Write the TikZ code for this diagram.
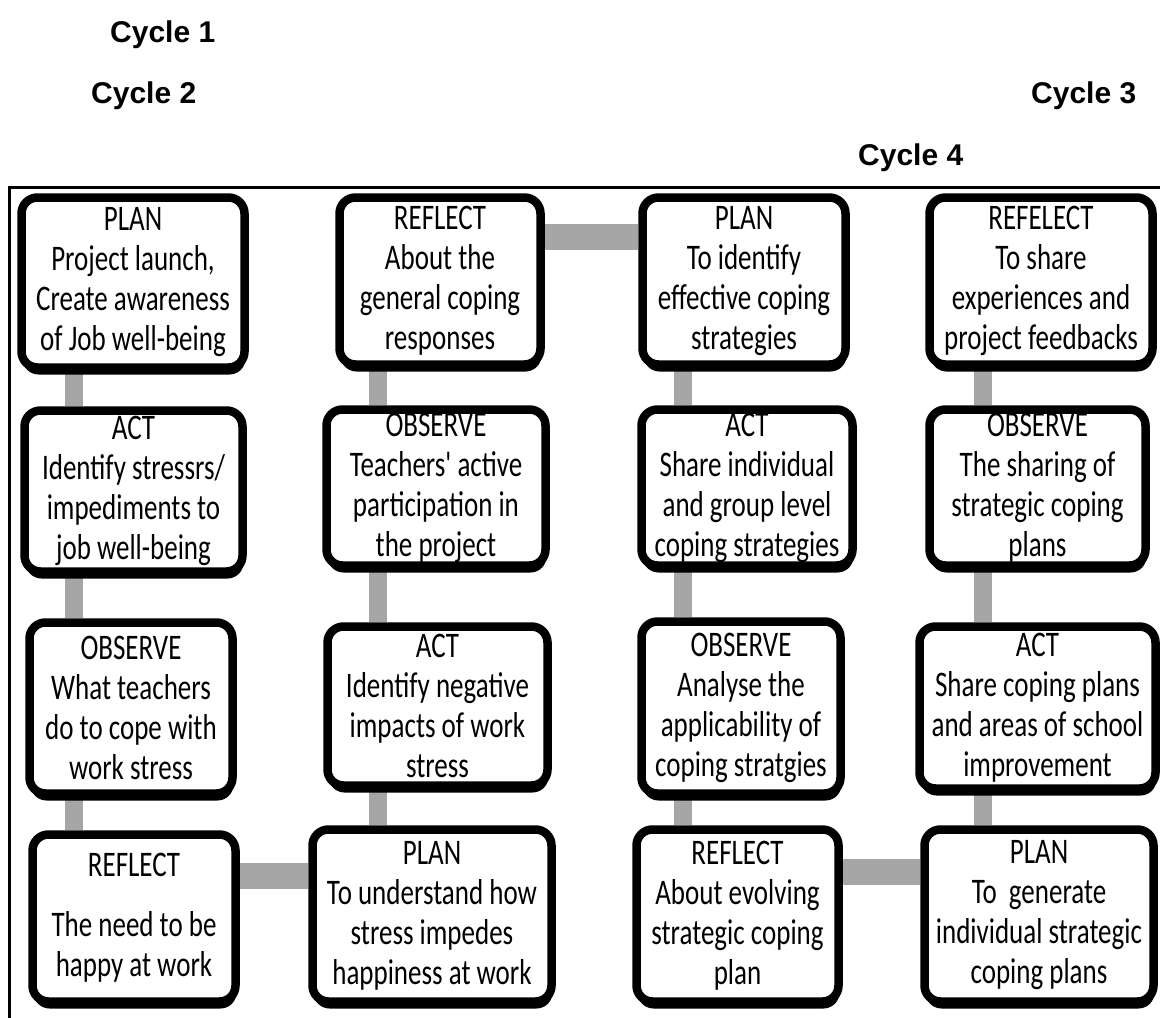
\documentclass[tikz,border=0pt]{standalone}
\usepackage{fontspec}
\setmainfont{Carlito}[FakeStretch=0.75]
\newfontfamily\plainfont{Carlito}[FakeStretch=0.75]
\newfontfamily\cyclefont{Liberation Sans}
\usetikzlibrary{backgrounds,shadows}
\begin{document}
\begin{tikzpicture}[x=1pt,y=-1pt,
  pbox/.style={draw=black, line width=8.5pt, fill=white, rounded corners=16pt,
    inner sep=0pt, align=center, font=\fontsize{36}{40}\selectfont,
    general shadow={fill=black, shadow yshift=-7pt, shadow xshift=1pt}},
  vconn/.style={draw=black!35, line width=18pt},
  hconn/.style={draw=black!35, line width=26pt},
  cyc/.style={anchor=base west, inner sep=0pt, font=\cyclefont\bfseries\fontsize{30}{36}\selectfont}]
\useasboundingbox (0,0) rectangle (1160,1018);
\clip (0,0) rectangle (1160,1018);
% frame
\draw[line width=3pt] (1162,187.5) -- (9.5,187.5) -- (9.5,1020);
% cycle labels
\node[cyc] (cy1) at (110,42) {Cycle 1};
\node[cyc] (cy2) at (91,103) {Cycle 2};
\node[cyc] (cy3) at (1031,103) {Cycle 3};
\node[cyc] (cy4) at (858,165) {Cycle 4};
% column 1
\node[pbox, minimum width=223, minimum height=170] (a1) at (133,282.5) {PLAN\\Project launch,\\Create awareness\\of Job well-being};
\node[pbox, minimum width=218, minimum height=161] (a2) at (133.5,491) {ACT\\Identify stressrs/\\impediments to\\job well-being};
\node[pbox, minimum width=203, minimum height=171] (a3) at (131,708) {OBSERVE\\What teachers\\do to cope with\\work stress};
\node[pbox, minimum width=203, minimum height=167] (a4) at (134,918) {REFLECT\\[20pt]The need to be\\happy at work};
% column 2
\node[pbox, minimum width=201, minimum height=167] (b1) at (440,281) {REFLECT\\About the\\general coping\\responses};
\node[pbox, minimum width=219, minimum height=156] (b2) at (436,487.5) {OBSERVE\\Teachers{\plainfont'} active\\participation in\\the project};
\node[pbox, minimum width=220, minimum height=159] (b3) at (437.5,706) {ACT\\Identify negative\\impacts of work\\stress};
\node[pbox, minimum width=239, minimum height=172] (b4) at (432,915.5) {PLAN\\To understand how\\stress impedes\\happiness at work};
% column 3
\node[pbox, minimum width=203, minimum height=167] (c1) at (744,281) {PLAN\\To identify\\effective coping\\strategies};
\node[pbox, minimum width=211, minimum height=156] (c2) at (747,487.5) {ACT\\Share individual\\and group level\\coping strategies};
\node[pbox, minimum width=199, minimum height=172] (c3) at (741,707.5) {OBSERVE\\Analyse the\\applicability of\\coping stratgies};
\node[pbox, minimum width=202, minimum height=172] (c4) at (737.5,915.5) {REFLECT\\About evolving\\strategic coping\\plan};
% column 4
\node[pbox, minimum width=223, minimum height=167] (d1) at (1041,281) {REFELECT\\To share\\experiences and\\project feedbacks};
\node[pbox, minimum width=216, minimum height=156] (d2) at (1037.5,487.5) {OBSERVE\\The sharing of\\strategic coping\\plans};
\node[pbox, minimum width=236, minimum height=162] (d3) at (1037.5,707.5) {ACT\\Share coping plans\\and areas of school\\improvement};
\node[pbox, minimum width=229, minimum height=172] (d4) at (1039,915.5) {PLAN\\To~~generate\\individual strategic\\coping plans};
% connector guide coordinates
\coordinate (vx1) at (74,0);
\coordinate (vx2) at (378,0);
\coordinate (vx3) at (683,0);
\coordinate (vx4) at (983,0);
\coordinate (hy1) at (0,237);
\coordinate (hy4a) at (0,876);
\coordinate (hy4b) at (0,872);
\begin{pgfonlayer}{background}
\draw[vconn] (a1.south -| vx1) -- (a2.north -| vx1);
\draw[vconn] (a2.south -| vx1) -- (a3.north -| vx1);
\draw[vconn] (a3.south -| vx1) -- (a4.north -| vx1);
\draw[hconn] (a4.east |- hy4a) -- (b4.west |- hy4a);
\draw[vconn] (b4.north -| vx2) -- (b3.south -| vx2);
\draw[vconn] (b3.north -| vx2) -- (b2.south -| vx2);
\draw[vconn] (b2.north -| vx2) -- (b1.south -| vx2);
\draw[hconn] (b1.east |- hy1) -- (c1.west |- hy1);
\draw[vconn] (c1.south -| vx3) -- (c2.north -| vx3);
\draw[vconn] (c2.south -| vx3) -- (c3.north -| vx3);
\draw[vconn] (c3.south -| vx3) -- (c4.north -| vx3);
\draw[hconn] (c4.east |- hy4b) -- (d4.west |- hy4b);
\draw[vconn] (d4.north -| vx4) -- (d3.south -| vx4);
\draw[vconn] (d3.north -| vx4) -- (d2.south -| vx4);
\draw[vconn] (d2.north -| vx4) -- (d1.south -| vx4);
\end{pgfonlayer}
\end{tikzpicture}
\end{document}
